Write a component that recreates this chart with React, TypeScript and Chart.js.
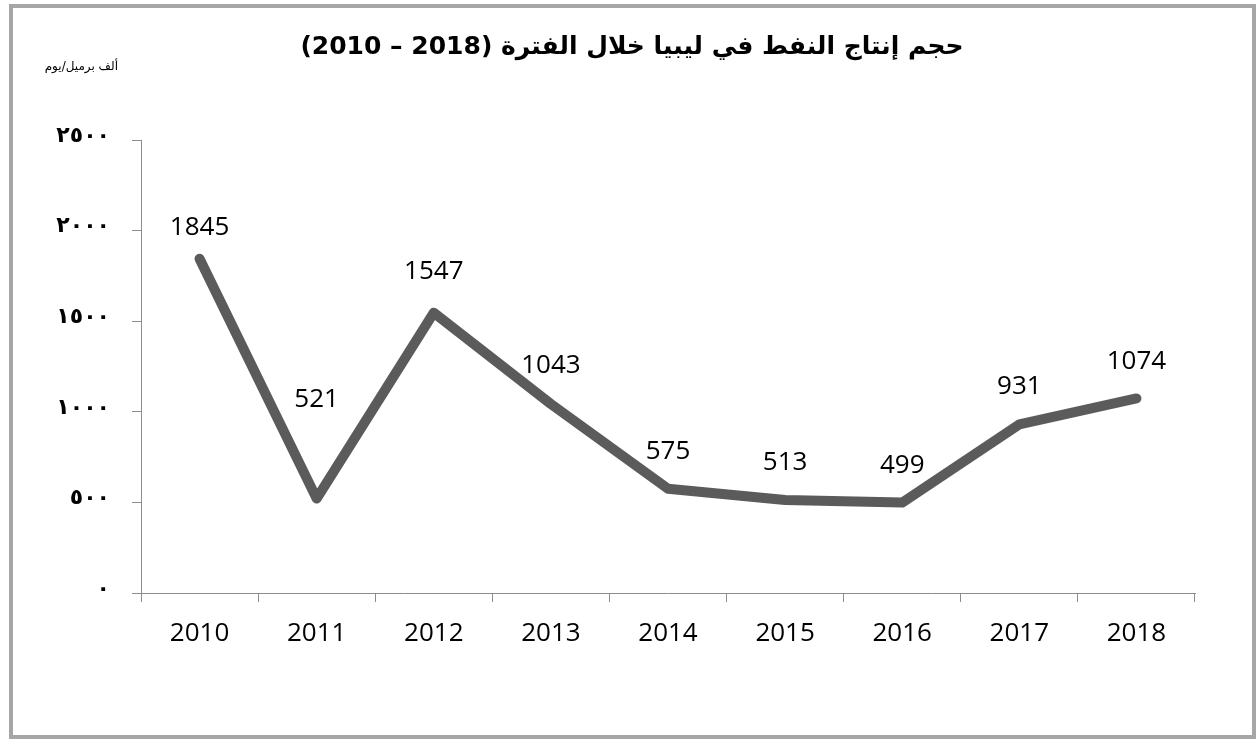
import React, { useEffect, useRef } from "react";
import { Chart, registerables } from "chart.js";

Chart.register(...registerables);

const years = ["2010", "2011", "2012", "2013", "2014", "2015", "2016", "2017", "2018"];
const production = [1845, 521, 1547, 1043, 575, 513, 499, 931, 1074];
const labelLift = [31, 99, 41, 38, 37, 37, 37, 38, 37];
const yTickLabels = ["٠", "٥٠٠", "١٠٠٠", "١٥٠٠", "٢٠٠٠", "٢٥٠٠"];
const titleText = "حجم إنتاج النفط في ليبيا خلال الفترة (2018 – 2010)";
const unitText = "ألف برميل/يوم";

const W = 1256;
const H = 740;

const textPlugin = {
  id: "textPlugin",
  afterDatasetsDraw(chart: any) {
    const ctx = chart.ctx;
    const meta = chart.getDatasetMeta(0);
    ctx.save();
    ctx.fillStyle = "#000";
    ctx.font = "26px 'Open Sans'";
    ctx.textAlign = "center";
    ctx.textBaseline = "middle";
    meta.data.forEach((pt: any, i: number) => {
      ctx.fillText(String(production[i]), pt.x, pt.y - labelLift[i]);
    });
    ctx.restore();
  },
  afterDraw(chart: any) {
    const ctx = chart.ctx;
    const ys = chart.scales.y;
    ctx.save();
    ctx.fillStyle = "#000";
    ctx.font = "bold 22px 'DejaVu Sans'";
    ctx.textAlign = "right";
    ctx.textBaseline = "middle";
    (ctx as any).letterSpacing = "2px";
    ys.ticks.forEach((t: any, i: number) => {
      ctx.fillText(yTickLabels[i], 110, ys.getPixelForValue(t.value) - 4);
    });
    ctx.restore();

    ctx.save();
    ctx.fillStyle = "#000";
    (ctx as any).direction = "rtl";
    ctx.textBaseline = "middle";
    ctx.font = "bold 25px 'DejaVu Sans'";
    ctx.textAlign = "center";
    ctx.fillText(titleText, 632, 47);
    ctx.font = "12px 'DejaVu Sans'";
    ctx.textAlign = "right";
    ctx.fillText(unitText, 118, 67);
    ctx.restore();
  },
};

export default function App() {
  const ref = useRef<HTMLCanvasElement | null>(null);
  useEffect(() => {
    if (!ref.current) return;
    const chart = new Chart(ref.current, {
      type: "line",
      data: {
        labels: years,
        datasets: [
          {
            data: production,
            borderColor: "#5b5b5b",
            borderWidth: 10,
            borderCapStyle: "round",
            borderJoinStyle: "round",
            pointRadius: 0,
            tension: 0,
            fill: false,
          },
        ],
      },
      options: {
        responsive: false,
        animation: false,
        layout: { padding: { top: 140, right: 61, left: 0, bottom: 0 } },
        plugins: {
          legend: { display: false },
          title: { display: false },
          tooltip: { enabled: false },
        },
        scales: {
          x: {
            offset: true,
            grid: {
              offset: true,
              drawOnChartArea: false,
              tickLength: 9,
              color: "#8c8c8c",
              lineWidth: 1,
            },
            border: { color: "#8c8c8c", width: 1 },
            ticks: {
              color: "#000",
              font: { family: "'Open Sans'", size: 26 },
              padding: 16,
              maxRotation: 0,
            },
            afterFit(scale: any) {
              scale.height = 147;
            },
          },
          y: {
            min: 0,
            max: 2500,
            grid: {
              drawOnChartArea: false,
              tickLength: 9,
              color: "#8c8c8c",
              lineWidth: 1,
            },
            border: { color: "#8c8c8c", width: 1 },
            ticks: {
              stepSize: 500,
              display: false,
            },
            afterFit(scale: any) {
              scale.width = 141;
            },
          },
        },
      },
      plugins: [textPlugin],
    } as any);
    return () => chart.destroy();
  }, []);

  return (
    <div>
      <canvas
        ref={ref}
        width={W}
        height={H}
        style={{ position: "absolute", left: 0, top: 0, width: W, height: H }}
      />
      <div
        style={{
          position: "absolute",
          left: 9,
          top: 4,
          width: 1247,
          height: 735,
          boxSizing: "border-box",
          border: "4px solid #a6a6a6",
          pointerEvents: "none",
        }}
      />
    </div>
  );
}
